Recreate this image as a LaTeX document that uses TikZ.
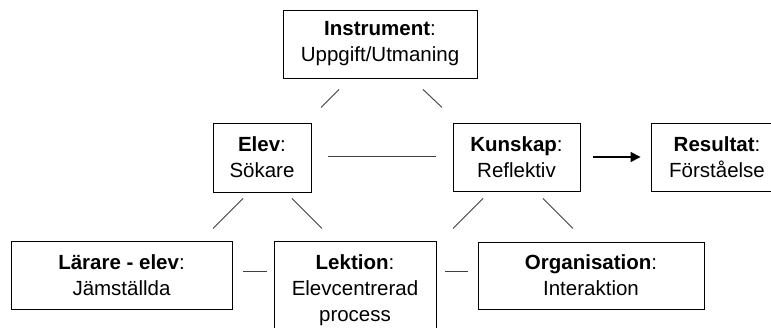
\documentclass[tikz,border=0pt]{standalone}
\usepackage{fontspec}
\setmainfont{Liberation Sans}
\usetikzlibrary{calc,arrows.meta}
\begin{document}
\begin{tikzpicture}[x=1pt,y=-1pt,
  box/.style={draw=black,line width=0.9pt,align=center,inner sep=0pt,
    font=\fontsize{20.5}{26}\selectfont},
  link/.style={draw=black!75,line width=0.9pt},
  flow/.style={draw=black,line width=1.4pt,-{Triangle[length=10pt,width=10pt]}}]
\useasboundingbox (0,0) rectangle (771,328);
\clip (0,0) rectangle (771,328);
\fill[white] (0,0) rectangle (771,328);

% boxes
\node[box,minimum width=194pt,minimum height=68pt] (instr) at (380,44)
  {\textbf{Instrument}:\\Uppgift/Utmaning};
\node[box,minimum width=98pt,minimum height=69pt] (elev) at (262,157.5)
  {\textbf{Elev}:\\Sökare};
\node[box,minimum width=127pt,minimum height=68pt] (kun) at (516.5,157)
  {\textbf{Kunskap}:\\Reflektiv};
\node[box,minimum width=132pt,minimum height=68pt] (res) at (717,157)
  {\textbf{Resultat}:\\Förståelse};
\node[box,minimum width=221pt,minimum height=68pt] (lar) at (121.5,275)
  {\textbf{Lärare - elev}:\\Jämställda};
\node[box,minimum width=162pt,minimum height=98pt] (lek) at (355,290)
  {\textbf{Lektion}:\\Elevcentrerad\\process};
\node[box,minimum width=226pt,minimum height=67pt] (org) at (591,275.5)
  {\textbf{Organisation}:\\Interaktion};

% connectors (free-standing strokes between the boxes)
\coordinate (ie1) at ($(instr.south)+(-59,29)$);
\coordinate (ie2) at ($(instr.south)+(-41,11)$);
\coordinate (ik1) at ($(instr.south)+(43,11)$);
\coordinate (ik2) at ($(instr.south)+(62,29)$);
\draw[link] (ie1) -- (ie2);
\draw[link] (ik1) -- (ik2);

\coordinate (ek1) at ($(elev.east)+(17,-1.5)$);
\coordinate (ek2) at ($(kun.west)+(-17,-1)$);
\draw[link] (ek1) -- (ek2);

\coordinate (kr1) at ($(kun.east)+(13,0)$);
\coordinate (kr2) at ($(res.west)+(-10,0)$);
\draw[flow] (kr1) -- (kr2);

\coordinate (el1) at ($(elev.south)+(-49,36)$);
\coordinate (el2) at ($(elev.south)+(-19,6)$);
\coordinate (ep1) at ($(elev.south)+(30,6)$);
\coordinate (ep2) at ($(elev.south)+(60,36)$);
\draw[link] (el1) -- (el2);
\draw[link] (ep1) -- (ep2);

\coordinate (kl1) at ($(kun.south)+(-63.5,37)$);
\coordinate (kl2) at ($(kun.south)+(-33.5,7)$);
\coordinate (ko1) at ($(kun.south)+(26.5,7)$);
\coordinate (ko2) at ($(kun.south)+(56.5,37)$);
\draw[link] (kl1) -- (kl2);
\draw[link] (ko1) -- (ko2);

\coordinate (ll1) at ($(lar.east)+(11,-4)$);
\coordinate (ll2) at ($(lek.west)+(-7,-19)$);
\coordinate (lo1) at ($(lek.east)+(9,-19)$);
\coordinate (lo2) at ($(org.west)+(-10,-4.5)$);
\draw[link] (ll1) -- (ll2);
\draw[link] (lo1) -- (lo2);
\end{tikzpicture}
\end{document}
